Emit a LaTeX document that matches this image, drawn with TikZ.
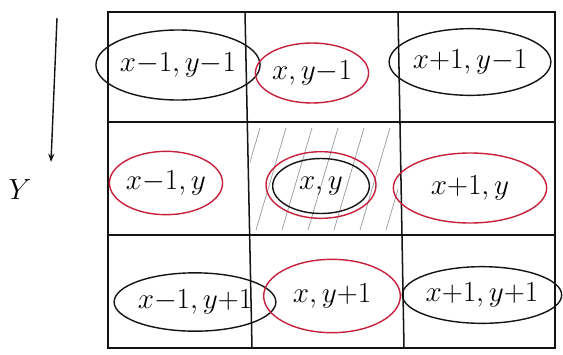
\documentclass[tikz,border=0pt]{standalone}
\usepackage{tikz}
\usetikzlibrary{positioning,arrows.meta,shapes.geometric}
\definecolor{inkred}{RGB}{200,32,60}
\definecolor{inkblack}{RGB}{20,20,20}

\begin{document}
\begin{tikzpicture}[
  x=0.03cm, y=-0.03cm,
  font=\fontsize{23}{27}\selectfont,
  cell/.style={draw=inkblack, line width=1.3pt},
  ring/.style={ellipse, draw, line width=1.2pt, inner sep=0pt},
  blk/.style={ring, draw=inkblack},
  red/.style={ring, draw=inkred},
  hatch/.style={draw=gray!80, line width=0.6pt},
  fleche/.style={-{Stealth[length=2.5mm]}, line width=1.2pt, draw=inkblack}]

\useasboundingbox (0,0) rectangle (563,354);

% hatching of the centre cell
\begin{scope}
  \clip (250,124) rectangle (398,233);
  \foreach \s in {-20,6,...,170}
    \draw[hatch] (250+\s,230) -- (280+\s,128);
\end{scope}

% grid
\draw[cell] (108,12) rectangle (555,348);
\draw[cell] (108,122) -- (555,122);
\draw[cell] (108,235) -- (555,235);
\draw[cell] (245,12) -- (252,348);
\draw[cell] (398,12) -- (404,348);

% cells
\node[blk, minimum width=4.7cm, minimum height=2.1cm] (nw) at (178,65) {$x{-}1, y{-}1$};
\node[red, minimum width=3.3cm, minimum height=1.8cm] (n) at (312,73) {$x, y{-}1$};
\node[blk, minimum width=4.8cm, minimum height=2.0cm] (ne) at (470,62) {$x{+}1, y{-}1$};
\node[red, minimum width=3.3cm, minimum height=1.9cm] (w) at (166,183) {$x{-}1, y$};
\node[red, minimum width=3.3cm, minimum height=2.0cm] (co) at (321,185) {};
\node[blk, minimum width=2.9cm, minimum height=1.65cm] (c) at (321,186) {$x, y$};
\node[red, minimum width=4.6cm, minimum height=2.1cm] (e) at (470,188) {$x{+}1, y$};
\node[blk, minimum width=4.5cm, minimum height=1.75cm] (sw) at (195,302) {$x{-}1, y{+}1$};
\node[red, minimum width=4.1cm, minimum height=2.2cm] (s) at (332,296) {$x, y{+}1$};
\node[blk, minimum width=4.4cm, minimum height=1.7cm] (se) at (482,295) {$x{+}1, y{+}1$};

% axis
\coordinate (ytop) at (57,18);
\coordinate (ybot) at (51,162);
\draw[fleche] (ytop) -- (ybot);
\node (ylab) at (20,190) {$Y$};
\end{tikzpicture}
\end{document}
